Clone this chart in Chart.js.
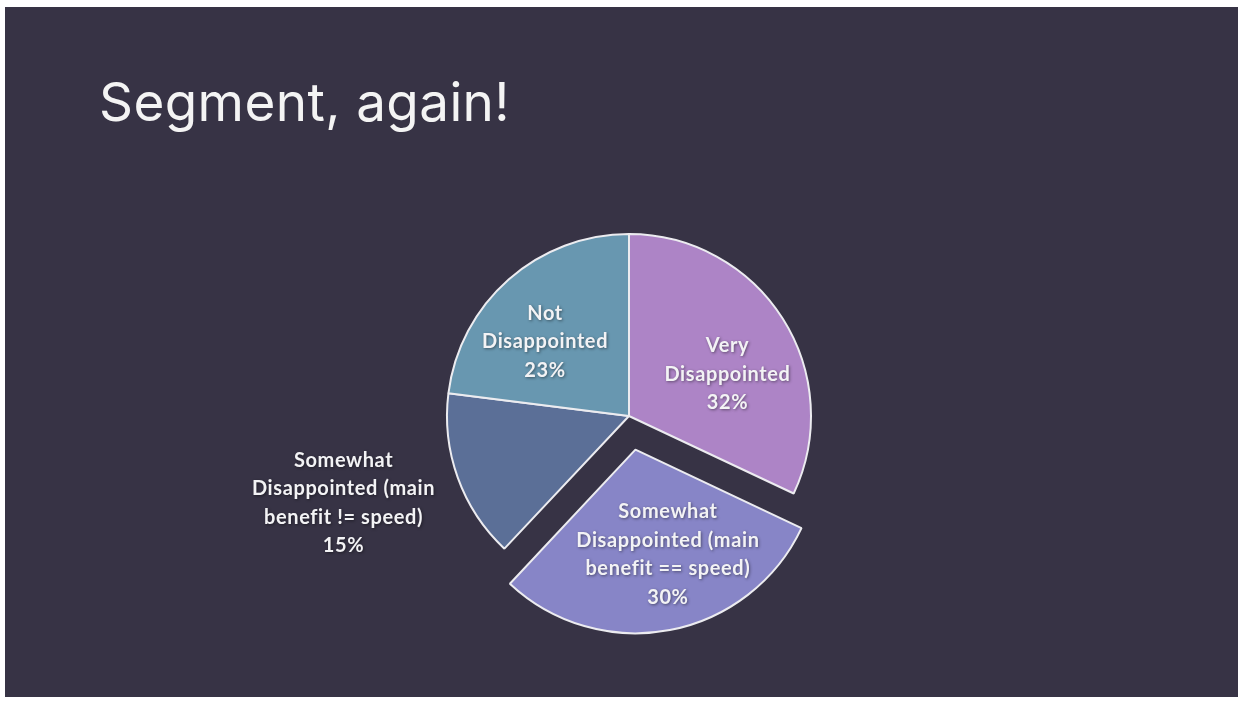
<!DOCTYPE html>
<html>
<head>
<meta charset="utf-8">
<script src="https://cdn.jsdelivr.net/npm/chart.js@4"></script>
<style>
  html, body { margin: 0; padding: 0; background: #ffffff; }
  body { width: 1241px; height: 702px; position: relative; overflow: hidden; }
  #slide { position: absolute; left: 5px; top: 7px; width: 1233px; height: 690px; background: #373345; }
  #title { position: absolute; left: 99px; top: 70px; margin: 0; font: 400 53px Inter, sans-serif; color: #f4f4f4; letter-spacing: 0.4px; }
  #pie { position: absolute; left: 0; top: 0; }
</style>
</head>
<body>
<div id="slide"></div>
<h1 id="title">Segment, again!</h1>
<canvas id="pie" width="1241" height="702"></canvas>
<script>
// kategori (per baris) dan persentase
const categories = [
  ['Very', 'Disappointed'],
  ['Somewhat', 'Disappointed (main', 'benefit == speed)'],
  ['Somewhat', 'Disappointed (main', 'benefit != speed)'],
  ['Not', 'Disappointed'],
];
const percents = [32, 30, 15, 23];
const sliceColors = ['#ad84c6', '#8785c7', '#5b6f97', '#6897b0'];

// plugin kecil untuk menulis label di dalam / di samping potongan
const sliceLabels = {
  id: 'sliceLabels',
  afterDatasetsDraw(chart, args, opts) {
    const ctx = chart.ctx;
    const arcs = chart.getDatasetMeta(0).data;
    ctx.save();
    ctx.font = opts.font;
    ctx.letterSpacing = opts.spacing;
    ctx.fillStyle = opts.color;
    ctx.textAlign = 'center';
    ctx.textBaseline = 'middle';
    ctx.shadowColor = 'rgba(0,0,0,0.45)';
    ctx.shadowBlur = 3;
    ctx.shadowOffsetX = 1;
    ctx.shadowOffsetY = 1;
    arcs.forEach((arc, i) => {
      const p = arc.getProps(['x', 'y', 'startAngle', 'endAngle', 'outerRadius'], true);
      const a = (p.startAngle + p.endAngle) / 2 + opts.turn[i] * Math.PI / 180;
      const d = p.outerRadius * opts.dist[i];
      const cx = p.x + Math.cos(a) * d;
      const cy = p.y + Math.sin(a) * d;
      const lines = chart.data.labels[i].concat(chart.data.datasets[0].data[i] + '%');
      const top = cy - (lines.length - 1) * opts.lineHeight / 2;
      lines.forEach((t, k) => ctx.fillText(t, cx, top + k * opts.lineHeight));
    });
    ctx.restore();
  },
};

new Chart(document.getElementById('pie'), {
  type: 'pie',
  data: {
    labels: categories,
    datasets: [{
      data: percents,
      backgroundColor: sliceColors,
      borderColor: '#ececf0',
      borderWidth: 2,
      offset: [0, 137, 0, 0], // potongan "== speed" ditarik keluar
      hoverOffset: 0,
      clip: false,
    }],
  },
  options: {
    responsive: false,
    animation: false,
    events: [],
    radius: 182,
    layout: {
      padding: { left: 217, right: 200, top: 200, bottom: 70 },
    },
    plugins: {
      legend: { display: false },
      tooltip: { enabled: false },
      sliceLabels: {
        font: 'bold 20px Lato, sans-serif',
        spacing: '0.6px',
        color: '#f3f3f5',
        lineHeight: 28.5,
        dist: [0.588, 0.79, 1.64, 0.615],
        turn: [9.4, -4.9, 2.8, -7.2],
      },
    },
  },
  plugins: [sliceLabels],
});
</script>
</body>
</html>
